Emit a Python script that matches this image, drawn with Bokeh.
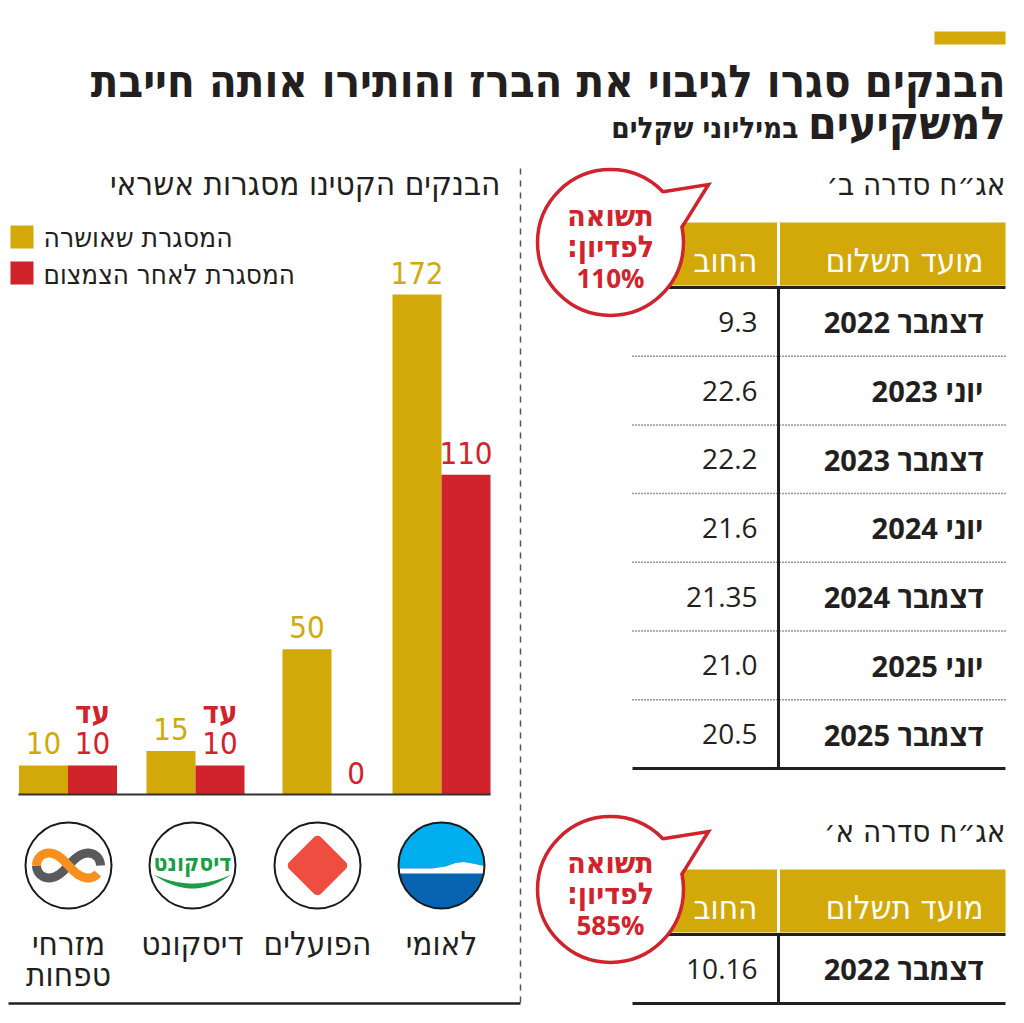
import numpy as np
from bokeh.plotting import figure
from bokeh.models import Range1d
from bokeh.core.properties import value
from bokeh.embed import file_html
from bokeh.resources import INLINE

# ---------------- data ----------------
title_line1 = "הבנקים סגרו לגיבוי את הברז והותירו אותה חייבת"
title_line2 = "למשקיעים"
title_unit = "במיליוני שקלים"

bars_title = "הבנקים הקטינו מסגרות אשראי"
legend_labels = ["המסגרת שאושרה", "המסגרת לאחר הצמצום"]
banks = [["מזרחי", "טפחות"], ["דיסקונט"], ["הפועלים"], ["לאומי"]]
approved = [10, 15, 50, 172]
after_cut = [10, 10, 0, 110]
after_cut_prefix = ["עד", "עד", "", ""]

series_b_title = "אג״ח סדרה ב׳"
series_a_title = "אג״ח סדרה א׳"
col_headers = ["מועד תשלום", "החוב"]
series_b_dates = ["דצמבר 2022", "יוני 2023", "דצמבר 2023", "יוני 2024",
                  "דצמבר 2024", "יוני 2025", "דצמבר 2025"]
series_b_debt = ["9.3", "22.6", "22.2", "21.6", "21.35", "21.0", "20.5"]
series_a_dates = ["דצמבר 2022"]
series_a_debt = ["10.16"]
yield_words = ["תשואה", "לפדיון:"]
series_b_yield = "110%"
series_a_yield = "585%"

# ---------------- style ----------------
GOLD = "#d3a90a"
RED = "#d0232b"
INK = "#231f20"
COND = "'Liberation Sans Narrow', 'DejaVu Sans Condensed', 'Liberation Sans', sans-serif"
SANS = "'Open Sans', 'Liberation Sans', 'DejaVu Sans', sans-serif"
RLM = "\u200f"

W, H = 1012, 1012
p = figure(width=W, height=H, x_range=Range1d(0, W), y_range=Range1d(H, 0),
           output_backend="svg", toolbar_location=None, min_border=0,
           x_axis_type=None, y_axis_type=None)
p.grid.visible = False
p.outline_line_color = None
p.background_fill_color = "white"
p.border_fill_color = "white"

# value scale for the bars: baseline pixel and pixel of the largest value
BASE_PX, TOP_PX = 794, 294
k = (BASE_PX - TOP_PX) / max(approved)
p.extra_y_ranges = {"val": Range1d(start=-(H - BASE_PX) / k, end=BASE_PX / k)}


def txt(x, y, s, size, color=INK, font=COND, align="right", style="normal", baseline="middle", **kw):
    p.text(x=[x], y=[y], text=[s], text_font=value(font), text_font_size=f"{size}px",
           text_color=color, text_align=align, text_baseline=baseline,
           text_font_style=style, **kw)


# ---------------- header ----------------
p.quad(left=[934], right=[1005], top=[31], bottom=[44], fill_color=GOLD, line_color=None)
txt(1005, 81, title_line1, 45, style="bold")
txt(1005, 122, title_line2, 46, style="bold")
txt(798, 127, title_unit, 29.5, style="bold")

# divider and bottom rule
p.line([520, 520], [168, 1003], line_color="#555555", line_width=1.5, line_dash="6 6")
p.line([8, 520], [1003, 1003], line_color=INK, line_width=2.5)

# ---------------- bar chart ----------------
txt(500, 183, bars_title, 33)
p.quad(left=[10], right=[33], top=[225], bottom=[248], fill_color=GOLD, line_color=None)
p.quad(left=[10], right=[33], top=[261], bottom=[284], fill_color=RED, line_color=None)
txt(43, 237, legend_labels[0], 28, align="left")
txt(43, 273, legend_labels[1], 27.5, align="left")

group_x = [67.5, 195, 331, 441]     # layout: centre of each pair of bars
BW = 49
gold_x = [g - BW / 2 for g in group_x]
red_x = [g + BW / 2 for g in group_x]
p.vbar(x=gold_x, width=BW, bottom=0, top=approved, y_range_name="val",
       fill_color=GOLD, line_color=None)
p.vbar(x=red_x, width=BW, bottom=0, top=after_cut, y_range_name="val",
       fill_color=RED, line_color=None)
p.line([18, 490], [BASE_PX, BASE_PX], line_color="#333333", line_width=2)

p.text(x=gold_x, y=approved, text=[str(v) for v in approved], y_range_name="val",
       text_font=value(COND), text_font_size="31px", text_color=GOLD,
       text_align="center", text_baseline="middle", y_offset=-22)
p.text(x=red_x, y=after_cut, text=[str(v) for v in after_cut], y_range_name="val",
       text_font=value(COND), text_font_size="31px", text_color=RED,
       text_align="center", text_baseline="middle", y_offset=-22)
pre_x = [x for x, s in zip(red_x, after_cut_prefix) if s]
pre_y = [v for v, s in zip(after_cut, after_cut_prefix) if s]
pre_t = [s for s in after_cut_prefix if s]
p.text(x=pre_x, y=pre_y, text=pre_t, y_range_name="val",
       text_font=value(COND), text_font_size="31px", text_color=RED,
       text_align="center", text_baseline="middle", y_offset=-53, text_font_style="bold")

# ---------------- logos ----------------
logo_x = [68, 192, 317, 441]
LY, LR = 865, 43

# Mizrahi Tefahot: two-colour infinity
cx = logo_x[0]
a = 32
t = np.linspace(0, np.pi, 80)
p.line(cx + a * np.cos(t) / (1 + np.sin(t) ** 2), LY - 1.1 * a * np.sin(t) * np.cos(t) / (1 + np.sin(t) ** 2),
       line_color="#5a5a5c", line_width=9)
t = np.linspace(np.pi, 2 * np.pi - 0.25, 80)
p.line(cx + a * np.cos(t) / (1 + np.sin(t) ** 2), LY - 1.1 * a * np.sin(t) * np.cos(t) / (1 + np.sin(t) ** 2),
       line_color="#f7901e", line_width=9)

# Discount: green wordmark and crescent
cx = logo_x[1]
txt(cx, 862, "דיסקונט", 23, color="#1e9c46", font="'DejaVu Sans Condensed', 'Liberation Sans', sans-serif",
    align="center", style="bold")
xs = np.linspace(cx - 39, cx + 39, 60)
u = ((xs - cx) / 39) ** 2
p.patch(np.concatenate([xs, xs[::-1]]),
        np.concatenate([874 + 14 * (1 - u), (874 + 9 * (1 - u))[::-1]]),
        fill_color="#1e9c46", line_color=None)

# Hapoalim: rounded red diamond
p.rect(x=[logo_x[2]], y=[LY], width=35, height=35, angle=np.pi / 4,
       fill_color="#ef4d3f", line_color="#ef4d3f", line_width=10, line_join="round")

# Leumi: blue disc with white wave
cx = logo_x[3]
p.circle(x=[cx], y=[LY], radius=LR, fill_color="#0664b0", line_color=None)
xs = np.linspace(cx - LR, cx + LR, 161)
half = np.sqrt(np.clip(LR ** 2 - (xs - cx) ** 2, 0, None))
ctop, cbot = LY - half, LY + half
wave = np.interp(xs - cx, [-43, -9, 4, 14, 22, 31, 43], [868, 868, 866, 862.5, 861.5, 863, 865.5])
lb_bot = np.maximum(np.minimum(wave, cbot), ctop)
p.patch(np.concatenate([xs, xs[::-1]]), np.concatenate([ctop, lb_bot[::-1]]),
        fill_color="#00adee", line_color=None)
wt = np.maximum(wave, ctop)
wb = np.maximum(np.minimum(873, cbot), wt)
p.patch(np.concatenate([xs, xs[::-1]]), np.concatenate([wt, wb[::-1]]),
        fill_color="white", line_color=None)

p.circle(x=logo_x, y=[LY] * 4, radius=LR, fill_color=None, line_color="#1a1a1a", line_width=2)

for x, lines in zip(logo_x, banks):
    for i, s in enumerate(lines):
        txt(x, 943 + 31 * i, s, 33, align="center")


# ---------------- tables ----------------
def bubble(cy, pct):
    cx, r = 610, 73
    a1, a2 = np.radians(-44), np.radians(-12)
    tip = (708, cy - 58)
    p.circle(x=[cx], y=[cy], radius=r, fill_color="white", line_color=RED, line_width=3.5)
    ang = np.linspace(a1, a2, 20)
    p.patch(list(cx + (r - 2.5) * np.cos(ang)) + [tip[0]],
            list(cy + (r - 2.5) * np.sin(ang)) + [tip[1]],
            fill_color="white", line_color=None)
    p.line([cx + r * np.cos(a1), tip[0], cx + r * np.cos(a2)],
           [cy + r * np.sin(a1), tip[1], cy + r * np.sin(a2)],
           line_color=RED, line_width=3.5, line_join="miter")
    txt(cx, cy - 27, yield_words[0], 30, color=RED, align="center", style="bold")
    txt(cx, cy + 4, yield_words[1] + RLM, 30, color=RED, align="center", style="bold")
    txt(cx, cy + 35, pct, 26, color=RED, font=SANS, align="center", style="bold")


def table(y0, title, dates, debts, pct):
    # y0: top of the gold header band
    txt(1005, y0 - 39, title, 31)
    p.quad(left=[632], right=[1005], top=[y0], bottom=[y0 + 63], fill_color=GOLD, line_color=None)
    p.line([778, 778], [y0, y0 + 63], line_color="white", line_width=3)
    txt(983, y0 + 38, col_headers[0], 33, color="white")
    txt(757, y0 + 38, col_headers[1], 33, color="white")
    top = y0 + 65
    row_h = 68.7
    n = len(dates)
    bottom = top + n * row_h if n > 1 else top + 69
    for i in range(1, n):
        yy = top + i * row_h
        p.line([632, 1005], [yy, yy], line_color="#333333", line_width=1.5, line_dash="1 2")
    ys = [top + (i + 0.5) * row_h for i in range(n)]
    p.text(x=[983] * n, y=ys, text=dates, text_font=value(SANS), text_font_size="29px",
           text_color=INK, text_align="right", text_baseline="middle", text_font_style="bold")
    p.text(x=[757] * n, y=ys, text=debts, text_font=value(SANS), text_font_size="28px",
           text_color=INK, text_align="right", text_baseline="middle")
    p.line([778, 778], [top, bottom], line_color=INK, line_width=3)
    p.line([632, 1005], [top, top], line_color=INK, line_width=3)
    p.line([632, 1005], [bottom, bottom], line_color=INK, line_width=3)
    bubble(y0 + 20, pct)


table(222, series_b_title, series_b_dates, series_b_debt, series_b_yield)
table(869, series_a_title, series_a_dates, series_a_debt, series_a_yield)

open("out.html", "w").write(file_html(p, INLINE))
